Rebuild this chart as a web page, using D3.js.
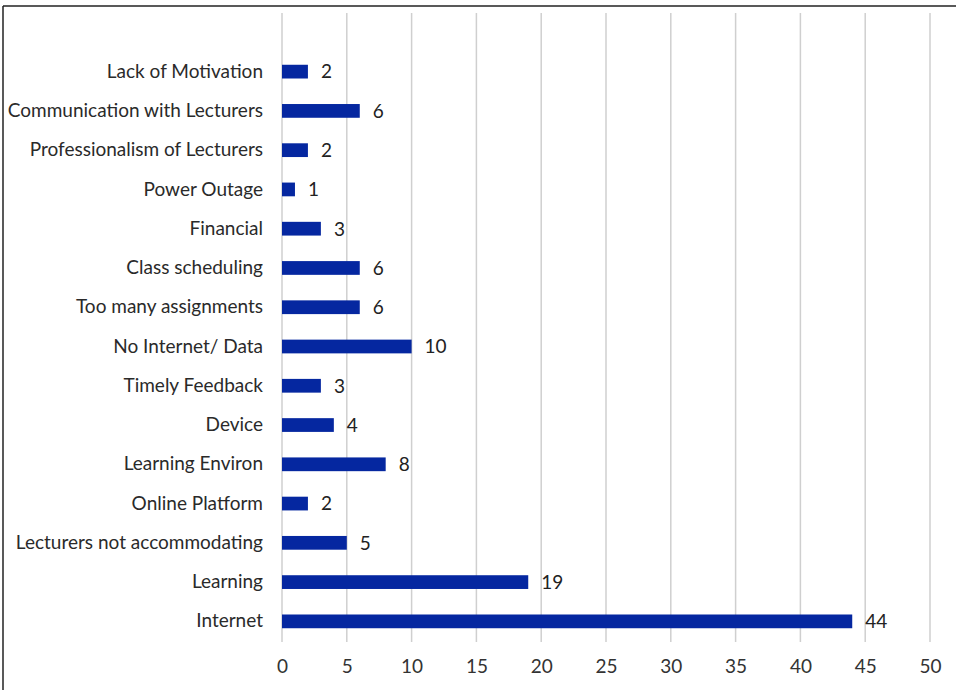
<!DOCTYPE html>
<html>
<head>
<meta charset="utf-8">
<script src="https://cdn.jsdelivr.net/npm/d3@7"></script>
<style>
  html, body { margin: 0; padding: 0; background: #fff; }
  svg { display: block; }
</style>
</head>
<body>
<svg id="chart" width="956" height="693"></svg>
<script>
// Challenges reported, number of responses per category (top to bottom)
const categories = [
  "Lack of Motivation",
  "Communication with Lecturers",
  "Professionalism of Lecturers",
  "Power Outage",
  "Financial ",
  "Class scheduling",
  "Too many assignments",
  "No Internet/ Data",
  "Timely Feedback",
  "Device",
  "Learning Environ",
  "Online Platform",
  "Lecturers not accommodating",
  "Learning",
  "Internet"
];
const counts = [2, 6, 2, 1, 3, 6, 6, 10, 3, 4, 8, 2, 5, 19, 44];
const xTicks = [0, 5, 10, 15, 20, 25, 30, 35, 40, 45, 50];

const svg = d3.select("#chart");
const font = "Lato, 'Open Sans', sans-serif";

// outer frame: top and left edges
svg.append("line").attr("x1", 3).attr("x2", 956).attr("y1", 6).attr("y2", 6)
  .attr("stroke", "#222").attr("stroke-width", 1.5);
svg.append("line").attr("x1", 3).attr("x2", 3).attr("y1", 6).attr("y2", 690)
  .attr("stroke", "#222").attr("stroke-width", 1.5);

const x = d3.scaleLinear().domain([0, 50]).range([282, 930]);
const y = d3.scaleBand().domain(categories).range([52, 641]).paddingInner(0.65).paddingOuter(0.325);

const gridTop = 13, gridBottom = 642;

// vertical gridlines
svg.append("g").selectAll("line").data(xTicks).join("line")
  .attr("x1", d => x(d)).attr("x2", d => x(d))
  .attr("y1", gridTop).attr("y2", gridBottom)
  .attr("stroke", "#cfcfcf").attr("stroke-width", 1.5);

// x axis tick labels
const xAxis = d3.axisBottom(x).tickValues(xTicks).tickSize(0).tickPadding(0);
const gx = svg.append("g").attr("transform", `translate(0, ${gridBottom + 17})`).call(xAxis);
gx.select(".domain").remove();
gx.selectAll("text").attr("font-family", font).attr("font-size", 19).attr("fill", "#333")
  .attr("dy", "0.71em");

// category labels
const yAxis = d3.axisLeft(y).tickSize(0).tickPadding(0);
const gy = svg.append("g").attr("transform", "translate(263, 0)").call(yAxis);
gy.select(".domain").remove();
gy.selectAll("text").attr("font-family", font).attr("font-size", 19).attr("fill", "#2a2a2a");

// bars
svg.append("g").selectAll("rect").data(categories).join("rect")
  .attr("x", x(0))
  .attr("y", d => y(d))
  .attr("width", (d, i) => x(counts[i]) - x(0))
  .attr("height", y.bandwidth())
  .attr("fill", "#0527a0");

// value labels
svg.append("g").selectAll("text").data(categories).join("text")
  .attr("x", (d, i) => x(counts[i]) + 13)
  .attr("y", d => y(d) + y.bandwidth() / 2)
  .attr("dy", "0.36em")
  .attr("font-family", font).attr("font-size", 19).attr("fill", "#222")
  .text((d, i) => counts[i]);
</script>
</body>
</html>
